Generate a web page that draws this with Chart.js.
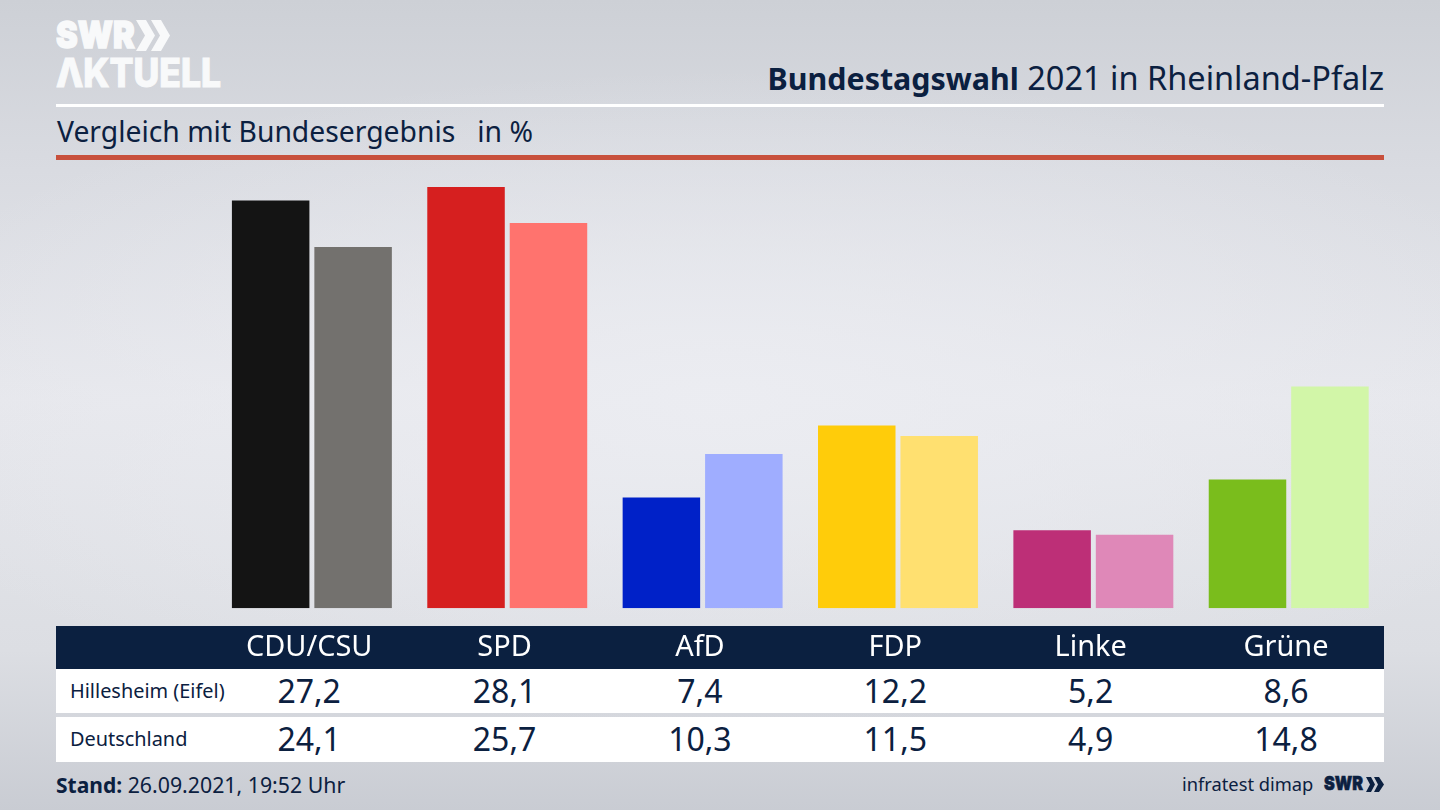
<!DOCTYPE html>
<html lang="de"><head><meta charset="utf-8">
<script src="https://cdn.jsdelivr.net/npm/chart.js@4"></script>
<style>
html,body{margin:0;padding:0;width:1440px;height:810px;overflow:hidden}
body{position:relative;font-family:"Noto Sans",sans-serif;color:#0b2040;
background:radial-gradient(ellipse 900px 330px at 720px 400px,rgba(236,237,242,.9),rgba(236,237,242,0)),linear-gradient(180deg,#cdd0d6 0,#d9dbe1 170px,#e6e7ec 400px,#dcdee3 650px,#c9ccd3 810px)}
.a{position:absolute;white-space:nowrap}
canvas{position:absolute;left:0;top:0}
.val{position:absolute;transform:translateX(-50%);font-size:32px;line-height:44px}
.lab{position:absolute;left:70px;font-size:19.900px;line-height:44px}
</style></head><body>
<div class="a" style="left:56px;top:10px;font:900 37px/50px Inter,sans-serif;color:#f8f9fa;-webkit-text-stroke:1.500px #f8f9fa;transform-origin:0 0;transform:scaleX(.88)">SWR</div>
<svg class="a" style="left:136px;top:20px" width="36" height="32" aria-hidden="true"><path d="M0 0h10l9 15.500-9 15.500h-10l9-15.500zM15 0h10l9 15.500-9 15.500h-10l9-15.500z" fill="#f8f9fa"/></svg>
<div class="a" style="left:56px;top:48px;font:800 39px/50px Inter,sans-serif;color:#f8f9fa;-webkit-text-stroke:1px #f8f9fa;transform-origin:0 0;transform:scaleX(.91)">ΛKTUELL</div>
<div class="a" style="right:56px;top:56px;font-size:32.500px;line-height:44px"><b style="font-size:30.400px">Bundestagswahl</b> 2021 in Rheinland-Pfalz</div>
<div class="a" style="left:56px;top:104px;width:1328px;height:3px;background:#fff"></div>
<div class="a" style="left:57px;top:111px;font-size:28.300px;line-height:40px;white-space:pre">Vergleich mit Bundesergebnis   in %</div>
<div class="a" style="left:56px;top:155px;width:1328px;height:5px;background:#c8503c"></div>
<div class="a" style="left:56px;top:626px;width:1328px;height:42.500px;background:#0b2040"></div>
<div class="a" style="left:56px;top:668.500px;width:1328px;height:44.500px;background:#fff"></div>
<div class="a" style="left:56px;top:717px;width:1328px;height:45px;background:#fff"></div>
<div id="rows"></div>
<div class="a" style="left:56px;top:768px;font-size:21.300px;line-height:34px"><b style="font-size:21px">Stand:</b> 26.09.2021, 19:52 Uhr</div>
<div class="a" style="left:1182px;top:768px;font-size:18.300px;line-height:32px">infratest dimap</div>
<div class="a" style="left:1324px;top:769px;font:900 19px/30px Inter,sans-serif;-webkit-text-stroke:.6px #0b2040;transform-origin:0 0;transform:scaleX(.85)">SWR</div>
<svg class="a" style="left:1366px;top:777px" width="18" height="15" aria-hidden="true"><path d="M0 0h5l4 7.500-4 7.500h-5l4-7.500zM8 0h5l5 7.500-5 7.500h-5l4-7.500z" fill="#0b2040"/></svg>
<canvas id="c" width="1440" height="810"></canvas>
<script>
const categories = ["CDU/CSU","SPD","AfD","FDP","Linke","Grüne"];
const seriesNames = ["Hillesheim (Eifel)","Deutschland"];
const hillesheim = [27.2,28.1,7.4,12.2,5.2,8.6];
const deutschland = [24.1,25.7,10.3,11.5,4.9,14.8];
const coloursHillesheim = ["#141414","#d61f1f","#0021c8","#ffcc0a","#bd2f77","#7abd1c"];
const coloursDeutschland = ["#73716e","#ff736e","#9fadff","#ffe070","#df88b8","#d2f6a8"];
const labelShift = -2.7;

const chart = new Chart(document.getElementById("c"),{
  type:"bar",
  data:{labels:categories,datasets:[
    {label:seriesNames[0],data:hillesheim,backgroundColor:coloursHillesheim,categoryPercentage:.844,barPercentage:.94},
    {label:seriesNames[1],data:deutschland,backgroundColor:coloursDeutschland,categoryPercentage:.844,barPercentage:.94}
  ]},
  options:{
    responsive:false,animation:false,devicePixelRatio:1,
    layout:{padding:{left:214.200,right:53.600,top:158.600,bottom:131}},
    plugins:{legend:{display:false},tooltip:{enabled:false}},
    scales:{
      y:{display:false,min:0,max:30},
      x:{grid:{display:false},border:{display:false},
         ticks:{color:"#fff",padding:14,labelOffset:labelShift,maxRotation:0,autoSkip:false,font:{family:'"Noto Sans"',size:28.9}}}
    }
  }
});
const rows=document.getElementById("rows");
[[hillesheim,668.5],[deutschland,717]].forEach(([vals,top],r)=>{
  const l=document.createElement("div");l.className="lab";l.textContent=seriesNames[r];l.style.top=top+"px";rows.appendChild(l);
  vals.forEach((v,i)=>{
    const d=document.createElement("div");d.className="val";
    d.textContent=v.toFixed(1).replace(".",",");
    d.style.left=(chart.scales.x.getPixelForTick(i)+labelShift)+"px";d.style.top=top+"px";
    rows.appendChild(d);
  });
});
</script>
</body></html>
